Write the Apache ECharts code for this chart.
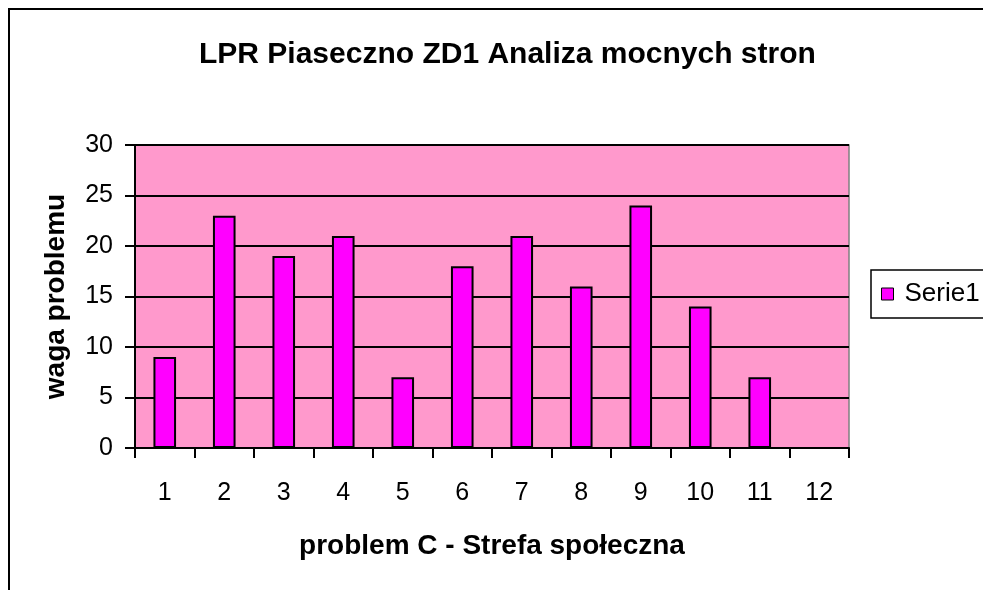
<!DOCTYPE html>
<html>
<head>
<meta charset="utf-8">
<script src="https://cdn.jsdelivr.net/npm/echarts@6/dist/echarts.min.js"></script>
<style>
    html, body { margin: 0; padding: 0; background: #fff; }
    #main { width: 983px; height: 590px; }
</style>
</head>
<body>
<div id="main"></div>
<script>
var categories = ["1", "2", "3", "4", "5", "6", "7", "8", "9", "10", "11", "12"];
var serie1 = [9, 23, 19, 21, 7, 18, 21, 16, 24, 14, 7, null];
var yTicks = { min: 0, max: 30, interval: 5 };

var font = "'Liberation Sans', Arial, sans-serif";

function initializeChart() {
    var chart = echarts.init(document.getElementById("main"));

    var options = {
        animation: false,
        textStyle: { fontFamily: font },
        title: {
            left: 194,
            top: 35,
            text: "LPR Piaseczno ZD1 Analiza mocnych stron",
            textStyle: {
                fontFamily: font,
                fontSize: 30,
                fontWeight: "bold",
                color: "#000",
            },
        },
        graphic: [{
            type: "rect",
            silent: true,
            shape: { x: 9, y: 9, width: 2000, height: 2000 },
            style: { fill: null, stroke: "#000", lineWidth: 2 },
        }],
        legend: {
            left: 871,
            top: 270,
            orient: "vertical",
            backgroundColor: "#fff",
            borderColor: "#000",
            borderWidth: 1.5,
            padding: [11, 40, 11, 10],
            itemWidth: 12,
            itemHeight: 12,
            itemGap: 0,
            itemStyle: { borderColor: "#000", borderWidth: 1 },
            textStyle: { fontFamily: font, fontSize: 26, color: "#000", padding: [0, 0, 0, 6] },
            data: [{ name: "Serie1", icon: "rect" }],
        },
        grid: {
            left: 135,
            top: 145,
            right: 134,
            bottom: 142,
            show: true,
            backgroundColor: "#FF99CC",
            borderColor: "#808080",
            borderWidth: 1.5,
            containLabel: false,
        },
        xAxis: {
            type: "category",
            data: categories,
            name: "problem C - Strefa społeczna",
            nameLocation: "middle",
            nameGap: 84,
            nameTextStyle: { fontFamily: font, fontSize: 28, fontWeight: "bold", color: "#000" },
            axisLine: { lineStyle: { color: "#000", width: 2 } },
            axisTick: { show: true, length: 10, lineStyle: { color: "#000", width: 2 } },
            axisLabel: { fontFamily: font, fontSize: 25, color: "#000", margin: 33 },
        },
        yAxis: {
            type: "value",
            min: yTicks.min,
            max: yTicks.max,
            interval: yTicks.interval,
            name: "waga problemu",
            nameLocation: "middle",
            nameGap: 65,
            nameTextStyle: { fontFamily: font, fontSize: 28, fontWeight: "bold", color: "#000" },
            axisLine: { show: true, lineStyle: { color: "#000", width: 2 } },
            axisTick: { show: true, length: 10, lineStyle: { color: "#000", width: 2 } },
            axisLabel: { fontFamily: font, fontSize: 25, color: "#000", margin: 22 },
            splitLine: { show: true, lineStyle: { color: "#000", width: 2 } },
        },
        series: [{
            name: "Serie1",
            type: "bar",
            data: serie1,
            barWidth: "38%",
            itemStyle: {
                color: "#FF00FF",
                borderColor: "#000",
                borderWidth: 2,
            },
        }],
    };

    chart.setOption(options);
}

initializeChart();
</script>
</body>
</html>
